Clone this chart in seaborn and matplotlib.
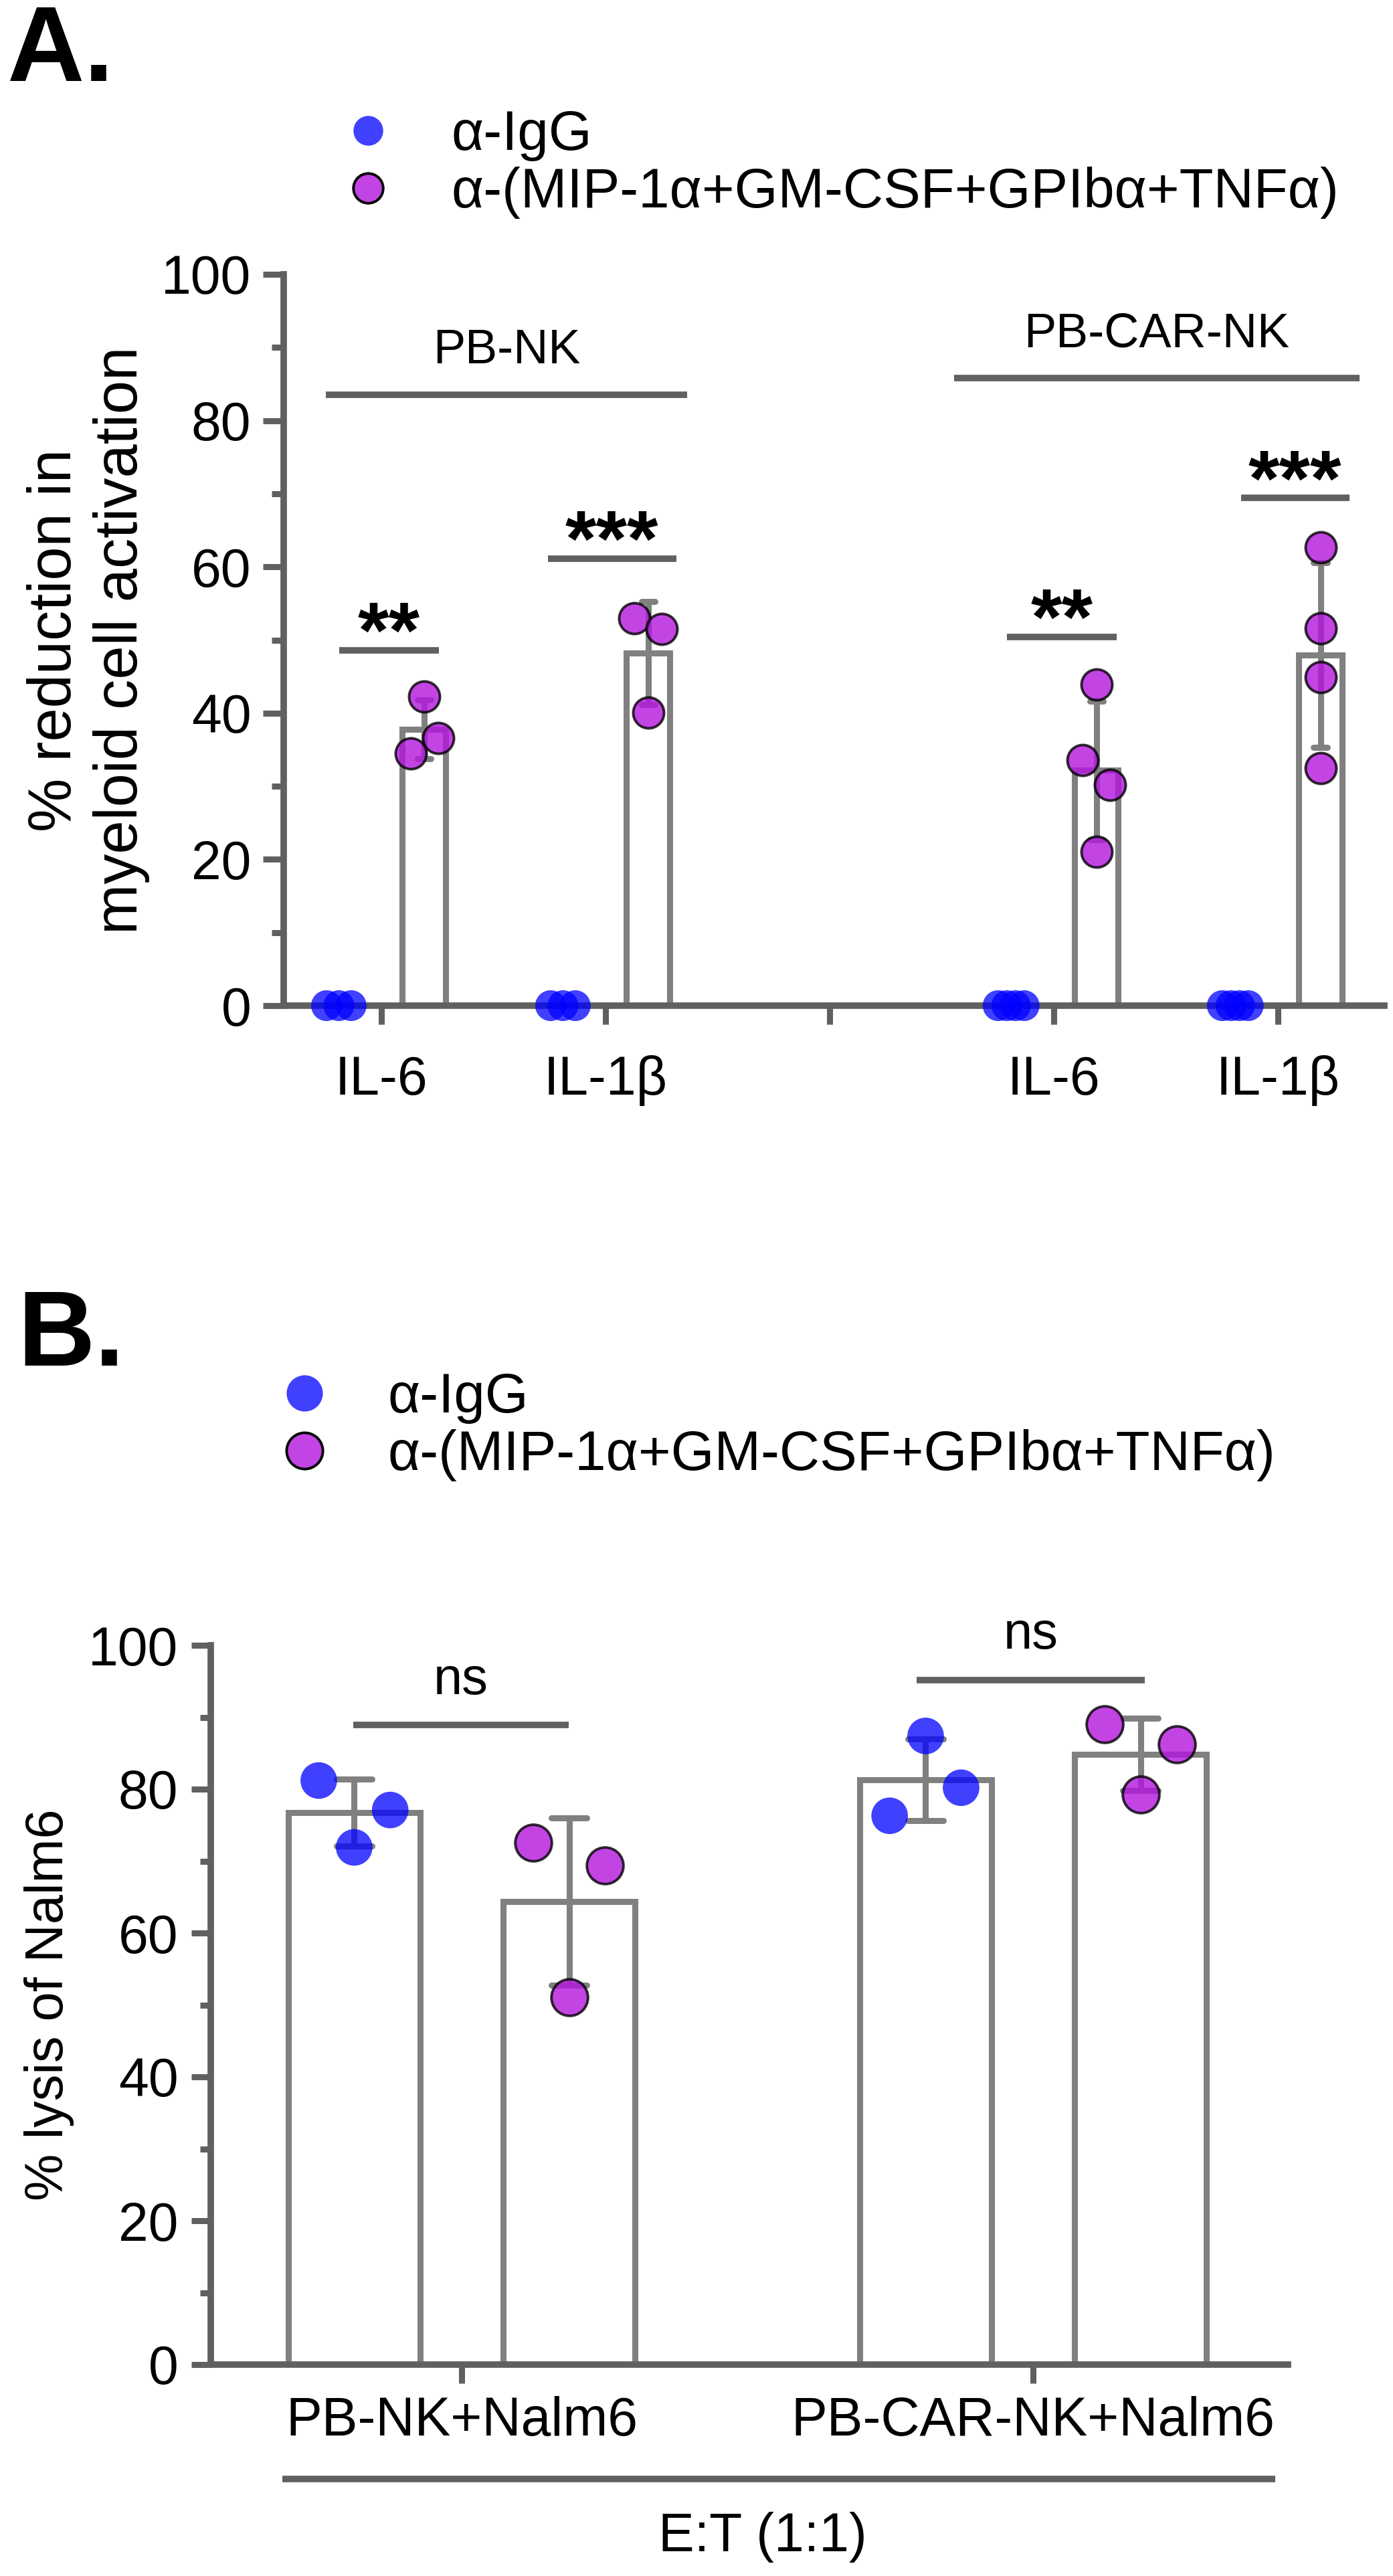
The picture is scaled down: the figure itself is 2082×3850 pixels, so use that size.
import numpy as np
import pandas as pd
import matplotlib
matplotlib.use('Agg')
import matplotlib.pyplot as plt
from matplotlib.lines import Line2D
from matplotlib.ticker import MultipleLocator
import seaborn as sns

# values
treatments = ['α-IgG', 'α-(MIP-1α+GM-CSF+GPIbα+TNFα)']

# A: % reduction in myeloid cell activation
a_groups = ['PB-NK IL-6', 'PB-NK IL-1β', 'PB-CAR-NK IL-6', 'PB-CAR-NK IL-1β']
a_ticklabels = ['IL-6', 'IL-1β', '', 'IL-6', 'IL-1β']
a_igg = [[0, 0, 0], [0, 0, 0], [0, 0, 0, 0], [0, 0, 0, 0]]
a_block = [[42.3, 36.6, 34.5], [53.0, 51.5, 40.1],
           [43.9, 33.6, 30.2, 21.0], [62.7, 51.6, 44.9, 32.5]]
a_cells = ['PB-NK', 'PB-CAR-NK']
a_stars = ['**', '***', '**', '***']

# B: % lysis of Nalm6
b_groups = ['PB-NK+Nalm6', 'PB-CAR-NK+Nalm6']
b_igg = [[81.2, 77.1, 71.9], [87.4, 80.2, 76.3]]
b_block = [[72.6, 69.4, 51.1], [89.0, 86.2, 79.3]]
b_stars = ['ns', 'ns']

# layout / style
GRAY = '#808080'
DARK = '#606060'
BLUE_DOT, PURPLE_DOT = '#0000FF', '#B315DD'
BLUE_LEG, PURPLE_LEG = '#4040FF', '#C244E4'

a_order = a_groups[:2] + ['gap'] + a_groups[2:]
a_pos = [0, 1, 3, 4]
# small horizontal spreads of the dots, as drawn in the original
a_nudge_igg = [[-0.055, 0, 0.055], [-0.055, 0, 0.055],
               [-0.058, -0.019, 0.019, 0.058], [-0.058, -0.019, 0.019, 0.058]]
a_nudge_block = [[0, 0.063, -0.06], [-0.063, 0.06, 0], [0, -0.06, 0.06, 0], [0, 0, 0, 0]]
b_nudge_igg = [[-0.062, 0.063, 0], [0, 0.062, -0.063]]
b_nudge_block = [[-0.063, 0.063, 0], [-0.063, 0.064, 0]]

# significance brackets: (x0, x1, y)
a_sig = [(-0.188, 0.257, 48.6), (0.743, 1.316, 61.1), (2.79, 3.28, 50.4), (3.836, 4.319, 69.4)]
a_cell_lines = [(-0.248, 1.364, 83.5), (2.556, 4.364, 85.8)]
b_sig = [(-0.19, 0.187, 88.9), (0.796, 1.196, 95.2)]


def long_df(groups, igg, block):
    rows = []
    for g, v0, v1 in zip(groups, igg, block):
        rows += [(g, treatments[0], v) for v in v0]
        rows += [(g, treatments[1], v) for v in v1]
    return pd.DataFrame(rows, columns=['group', 'treatment', 'value'])


def draw_bars(ax, df, order, width, gap, capsize):
    sns.barplot(data=df, x='group', y='value', hue='treatment', order=order,
                hue_order=treatments, errorbar='sd', capsize=capsize, fill=False,
                palette=[GRAY, GRAY], saturation=1, width=width, gap=gap,
                linewidth=6.5, err_kws={'color': GRAY, 'linewidth': 6.5},
                legend=False, ax=ax)


def draw_dots(ax, pos, igg, block, nudge_igg, nudge_block, dodge, size):
    for p, vals, nud in zip(pos, igg, nudge_igg):
        sns.scatterplot(x=[p - dodge + n for n in nud], y=vals, ax=ax, s=size,
                        color=BLUE_DOT, alpha=0.75, edgecolor='none',
                        zorder=4, clip_on=False, legend=False)
    for p, vals, nud in zip(pos, block, nudge_block):
        sns.scatterplot(x=[p + dodge + n for n in nud], y=vals, ax=ax, s=size,
                        color=PURPLE_DOT, alpha=0.8, edgecolor='black',
                        linewidth=2.8, zorder=5, clip_on=False, legend=False)


def style_axis(ax, ypad, xpad, ylen, xlen, minlen):
    sns.despine(ax=ax)
    for side in ['left', 'bottom']:
        ax.spines[side].set_linewidth(7)
        ax.spines[side].set_color(DARK)
    ax.set_ylim(0, 100)
    ax.yaxis.set_major_locator(MultipleLocator(20))
    ax.yaxis.set_minor_locator(MultipleLocator(10))
    ax.tick_params(axis='y', which='major', length=ylen, width=6.5, color=DARK,
                   labelsize=58, pad=ypad, labelcolor='black')
    ax.tick_params(axis='y', which='minor', length=minlen, width=6.5, color=DARK)
    ax.tick_params(axis='x', which='major', length=xlen, width=6.5, color=DARK,
                   labelsize=58, pad=xpad, labelcolor='black')
    ax.set_xlabel('')


def legend(fig, x, y, msize):
    handles = [Line2D([], [], ls='', marker='o', ms=msize, mfc=BLUE_LEG, mec='none'),
               Line2D([], [], ls='', marker='o', ms=msize, mfc=PURPLE_LEG, mec='black', mew=2.8)]
    fig.legend(handles, treatments, loc='center left', bbox_to_anchor=(x, y),
               frameon=False, fontsize=60, handlelength=1.0, handletextpad=1.0,
               borderpad=0, borderaxespad=0, labelspacing=0.1)


sns.set_style('ticks')
plt.rcParams['font.family'] = ['Liberation Sans', 'DejaVu Sans']
plt.rcParams['text.color'] = 'black'
plt.rcParams['axes.labelcolor'] = 'black'

W, H = 2082, 3850
fig = plt.figure(figsize=(W / 100, H / 100), dpi=100)
axA = fig.add_axes([424 / W, 1 - 1503 / H, (2069 - 424) / W, (1503 - 410) / H])
axB = fig.add_axes([315 / W, 1 - 3534 / H, (1925 - 315) / W, (3534 - 2459) / H])

# ---- panel A ----
df_a = long_df(a_groups, a_igg, a_block)
draw_bars(axA, df_a, a_order, 0.76, 0.487, 0.12)
draw_dots(axA, a_pos, a_igg, a_block, a_nudge_igg, a_nudge_block, 0.19, 1100)
style_axis(axA, 13, 33, 22, 20, 13)
axA.set_xticks(range(5))
axA.set_xticklabels(a_ticklabels)
axA.set_xlim(-0.436, 4.475)
axA.set_ylabel('% reduction in\nmyeloid cell activation', fontsize=65, va='center')
axA.yaxis.set_label_coords(-0.1775, 0.5)

for (x0, x1, y), s in zip(a_sig, a_stars):
    axA.plot([x0, x1], [y, y], color=DARK, lw=7, solid_capstyle='butt', clip_on=False)
    axA.text((x0 + x1) / 2, y - 1.0, s, ha='center', va='baseline', fontsize=86,
             fontweight='bold')
for (x0, x1, y), s in zip(a_cell_lines, a_cells):
    axA.plot([x0, x1], [y, y], color=DARK, lw=7, solid_capstyle='butt', clip_on=False)
    axA.text((x0 + x1) / 2, y + 4.3, s, ha='center', va='baseline', fontsize=52)

# ---- panel B ----
df_b = long_df(b_groups, b_igg, b_block)
draw_bars(axB, df_b, b_groups, 0.752, 0.386, 0.124)
draw_dots(axB, [0, 1], b_igg, b_block, b_nudge_igg, b_nudge_block, 0.188, 1550)
style_axis(axB, 14, 14, 21, 20, 11.5)
axB.set_xlim(-0.439, 1.446)
axB.set_ylabel('% lysis of Nalm6', fontsize=57, va='center')
axB.yaxis.set_label_coords(-0.1503, 0.5)

for (x0, x1, y), s in zip(b_sig, b_stars):
    axB.plot([x0, x1], [y, y], color=DARK, lw=7, solid_capstyle='butt', clip_on=False)
    axB.text((x0 + x1) / 2, y + 4.3, s, ha='center', va='baseline', fontsize=56)

axB.plot([-0.314, 1.424], [-15.9, -15.9], color=DARK, lw=7, solid_capstyle='butt',
         clip_on=False)
axB.text(0.527, -24, 'E:T (1:1)', ha='center', va='center', fontsize=58)

# legends and panel letters
legend(fig, 508 / W, 1 - 245 / H, 32)
legend(fig, 413 / W, 1 - 2132 / H, 39)
fig.text(10 / W, 1 - 5 / H, 'A.', fontsize=115, fontweight='bold', va='top', ha='left')
fig.text(26 / W, 1 - 1925 / H, 'B.', fontsize=115, fontweight='bold', va='top', ha='left')

fig.savefig('out.png', dpi=100)
